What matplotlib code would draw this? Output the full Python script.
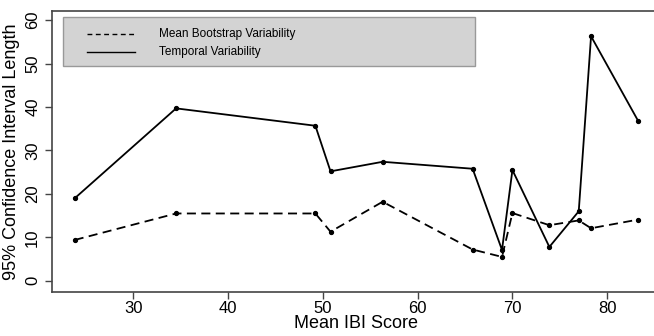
import matplotlib
matplotlib.use('Agg')
import matplotlib.pyplot as plt
from matplotlib.patches import Rectangle

# Mean IBI score for each site
ibi_score = [23.8, 34.5, 49.2, 50.8, 56.3, 65.8, 68.9, 70.0, 73.9, 77.0, 78.3, 83.3]
# 95% CI length, temporal variability
temporal = [19.0, 39.7, 35.7, 25.2, 27.4, 25.8, 7.1, 25.5, 7.8, 16.0, 56.3, 36.7]
# 95% CI length, mean bootstrap variability
bootstrap = [9.4, 15.5, 15.5, 11.3, 18.2, 7.2, 5.5, 15.6, 12.8, 13.9, 12.1, 14.1]

x_ticks = [30, 40, 50, 60, 70, 80]
y_ticks = [0, 10, 20, 30, 40, 50, 60]
legend_labels = ['Mean Bootstrap Variability', 'Temporal Variability']

plt.rcParams['font.family'] = ['Liberation Sans', 'DejaVu Sans']

fig = plt.figure(figsize=(6.54, 3.36), dpi=100)
ax = fig.add_axes([0.0795, 0.132, 0.93, 0.835])

dash = (0, (5, 3))
ax.plot(ibi_score, bootstrap, color='black', linestyle=dash, lw=1.3,
        marker='o', markersize=2.8)
ax.plot(ibi_score, temporal, color='black', linestyle='-', lw=1.3,
        marker='o', markersize=2.8)

ax.set_xlim(21.4, 85.6)
ax.set_ylim(-2.5, 62.1)
ax.set_xticks(x_ticks)
ax.set_yticks(y_ticks)
ax.tick_params(direction='out', length=5, width=1, color='#444444', labelsize=12)
ax.tick_params(axis='x', pad=2)
for lab in ax.get_yticklabels():
    lab.set_rotation(90)
    lab.set_va('center')

for side in ['left', 'bottom', 'top']:
    ax.spines[side].set_color('#444444')
    ax.spines[side].set_linewidth(1.2)
ax.spines['right'].set_visible(False)

ax.set_xlabel('Mean IBI Score', fontsize=13, labelpad=-1)
ax.set_ylabel('95% Confidence Interval Length', fontsize=13, labelpad=4)

# legend box drawn by hand, like the R original
ax.add_patch(Rectangle((0.018, 0.804), 0.678, 0.175, transform=ax.transAxes,
                       facecolor='#d3d3d3', edgecolor='#999999', lw=1, zorder=3))
rows = [0.918, 0.855]
styles = [(0, (3.5, 2.5)), '-']
for yy, ls, lab in zip(rows, styles, legend_labels):
    ax.plot([0.0576, 0.1365], [yy, yy], transform=ax.transAxes, color='black',
            linestyle=ls, lw=1.0, zorder=4)
    ax.text(0.176, yy, lab, transform=ax.transAxes, fontsize=8.5,
            va='center', ha='left', zorder=4)

fig.savefig('out.png', dpi=100)
